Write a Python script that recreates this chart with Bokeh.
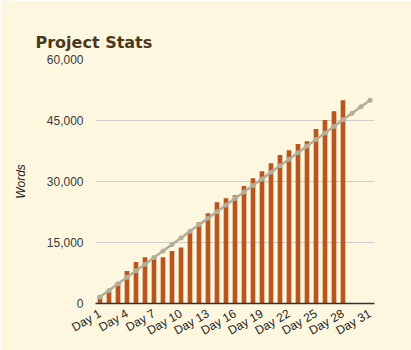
import math
from bokeh.plotting import figure
from bokeh.models import Range1d, FixedTicker, NumeralTickFormatter, ColumnDataSource
from bokeh.embed import file_html
from bokeh.resources import INLINE

# ---- data ----
bar_days = list(range(1, 29))
words = [2000, 3000, 5200, 8000, 10200, 11400, 11300, 11400, 12900, 13800,
         17700, 20000, 22200, 24900, 25900, 26600, 28900, 30800, 32500, 34500,
         36500, 37700, 39200, 39900, 42900, 45100, 47300, 50000]
target_days = list(range(1, 32))
target = [1613, 3226, 4839, 6452, 8065, 9677, 11290, 12903, 14516, 16129,
          17742, 19355, 20968, 22581, 24194, 25806, 27419, 29032, 30645, 32258,
          33871, 35484, 37097, 38710, 40323, 41935, 43548, 45161, 46774, 48387,
          50000]
tick_days = [1, 4, 7, 10, 13, 16, 19, 22, 25, 28, 31]
tick_labels = ["Day 1", "Day 4", "Day 7", "Day 10", "Day 13", "Day 16",
               "Day 19", "Day 22", "Day 25", "Day 28", "Day 31"]
y_ticks = [0, 15000, 30000, 45000, 60000]

BG = "#fef7e0"
BAR = "#b9551f"
LINE = "#b3ae98"

p = figure(width=411, height=350, output_backend="svg", toolbar_location=None,
           x_range=Range1d(0.5, 31.5), y_range=Range1d(0, 60000),
           min_border_left=95, min_border_right=37, min_border_top=59,
           min_border_bottom=47)
p.background_fill_color = BG
p.border_fill_color = BG
p.outline_line_color = None

p.title.text = "Project Stats"
p.title.text_font = "DejaVu Sans"
p.title.text_font_size = "16px"
p.title.text_font_style = "bold"
p.title.text_color = "#4a3818"
p.title.offset = -60
p.title.standoff = 15

src = ColumnDataSource(dict(x=bar_days, y=words))
p.vbar(x="x", top="y", width=0.52, bottom=0, source=src, fill_color=BAR, line_color=None)

tsrc = ColumnDataSource(dict(x=target_days, y=target))
p.line(x="x", y="y", source=tsrc, line_color=LINE, line_width=2.5)
p.scatter(x="x", y="y", source=tsrc, size=5, fill_color=LINE, line_color=None)

# y axis
ya = p.yaxis[0]
ya.ticker = FixedTicker(ticks=y_ticks)
ya.formatter = NumeralTickFormatter(format="0,0")
ya.axis_line_color = None
ya.major_tick_line_color = None
ya.minor_tick_line_color = None
ya.major_tick_out = 0
ya.major_label_standoff = 12
ya.major_label_text_font = "Liberation Sans"
ya.major_label_text_font_size = "12px"
ya.major_label_text_color = "#3a3a3a"
ya.axis_label = "Words"
ya.axis_label_text_font = "Liberation Sans"
ya.axis_label_text_font_size = "12px"
ya.axis_label_text_font_style = "italic"
ya.axis_label_text_color = "#222222"
ya.axis_label_standoff = 16

# x axis
xa = p.xaxis[0]
xa.ticker = FixedTicker(ticks=tick_days)
xa.major_label_overrides = {d: lab for d, lab in zip(tick_days, tick_labels)}
xa.axis_line_color = "#333333"
xa.axis_line_width = 1.5
xa.major_tick_line_color = None
xa.minor_tick_line_color = None
xa.major_tick_out = 0
xa.major_tick_in = 0
xa.major_label_orientation = math.pi / 6
xa.major_label_standoff = 9
xa.major_label_text_font = "Liberation Sans"
xa.major_label_text_font_size = "12px"
xa.major_label_text_color = "#222222"

p.xgrid.grid_line_color = None
p.ygrid.grid_line_color = "#cccccc"
p.ygrid.grid_line_width = 1

open("out.html", "w").write(file_html(p, INLINE))
